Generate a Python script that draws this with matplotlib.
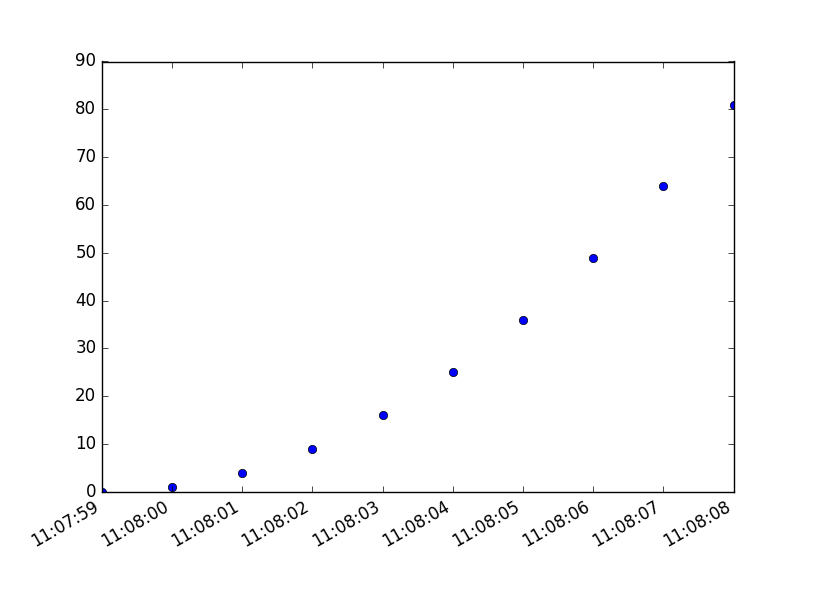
import datetime as dt
import matplotlib
matplotlib.use('Agg')
import matplotlib.pyplot as plt
import matplotlib.dates as mdates

plt.style.use('classic')

# timestamps and values
times = ['11:07:59', '11:08:00', '11:08:01', '11:08:02', '11:08:03',
         '11:08:04', '11:08:05', '11:08:06', '11:08:07', '11:08:08']
values = [0, 1, 4, 9, 16, 25, 36, 49, 64, 81]

x = [dt.datetime.strptime('2016-01-01 ' + t, '%Y-%m-%d %H:%M:%S') for t in times]

fig = plt.figure(figsize=(8.15, 6.15), dpi=100)
ax = fig.add_subplot(111)
ax.plot(x, values, 'o', color='b')
ax.set_xlim(x[0], x[-1])
ax.set_ylim(0, 90)
ax.xaxis.set_major_locator(mdates.SecondLocator())
ax.xaxis.set_major_formatter(mdates.DateFormatter('%H:%M:%S'))
fig.autofmt_xdate()

fig.savefig('out.png', dpi=100)
